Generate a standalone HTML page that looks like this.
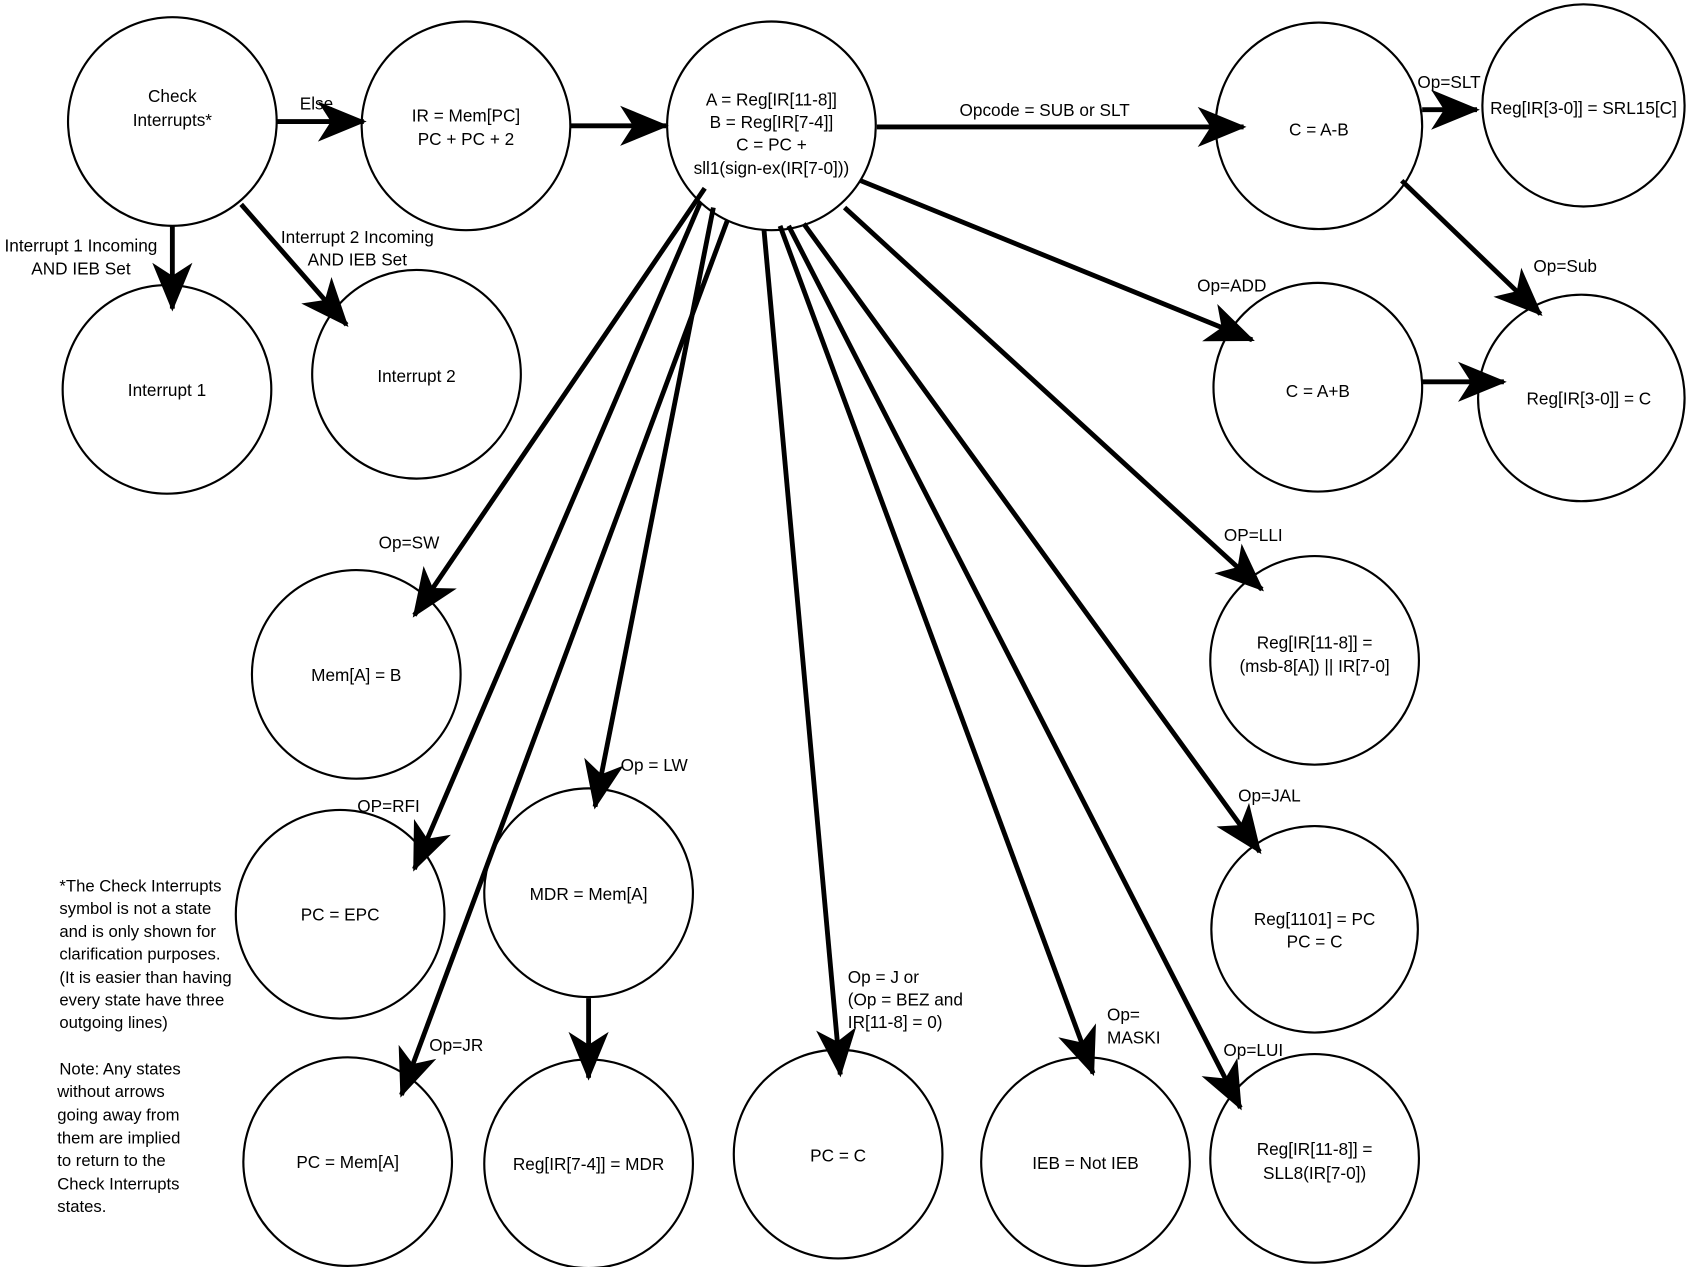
<!DOCTYPE html>
<html><head><meta charset="utf-8"><style>
html,body{margin:0;padding:0;background:#fff;width:1687px;height:1267px;overflow:hidden}
svg{display:block}
text{font-family:"Liberation Sans Narrow","Liberation Sans",sans-serif;font-size:16px;fill:#000;text-anchor:middle}
.n{font-family:"Liberation Sans",sans-serif;font-size:15.5px;text-anchor:start}
circle{fill:none;stroke:#000;stroke-width:2}
line{stroke:#000;stroke-width:4.5;marker-end:url(#a)}
</style></head><body>
<svg width="1687" height="1267" viewBox="0 0 1568 1178" xmlns="http://www.w3.org/2000/svg">
<defs><marker id="a" markerUnits="userSpaceOnUse" markerWidth="60" markerHeight="60" refX="0" refY="0" viewBox="-40 -20 45 40" orient="auto" overflow="visible"><path d="M2,0 L-32,-14 L-23,0 L-32,14 Z" fill="#000"/></marker></defs>

<circle cx="160" cy="113" r="97"/>
<circle cx="433" cy="117" r="97"/>
<circle cx="717" cy="117" r="97"/>
<circle cx="1226" cy="117" r="96"/>
<circle cx="1472" cy="98" r="94"/>
<circle cx="155" cy="362" r="97"/>
<circle cx="387" cy="348" r="97"/>
<circle cx="1225" cy="360" r="97"/>
<circle cx="1470" cy="370" r="96"/>
<circle cx="331" cy="627" r="97"/>
<circle cx="1222" cy="614" r="97"/>
<circle cx="316" cy="850" r="97"/>
<circle cx="547" cy="830" r="97"/>
<circle cx="1222" cy="864" r="96"/>
<circle cx="323" cy="1080" r="97"/>
<circle cx="547" cy="1082" r="97"/>
<circle cx="779" cy="1073" r="97"/>
<circle cx="1009" cy="1080" r="97"/>
<circle cx="1222" cy="1077" r="97"/>

<line x1="257" y1="113" x2="338" y2="113"/>
<line x1="530" y1="117" x2="619" y2="117"/>
<line x1="815" y1="118" x2="1156" y2="118"/>
<line x1="1322" y1="102" x2="1373" y2="102"/>
<line x1="1303" y1="168" x2="1432" y2="292"/>
<line x1="1322" y1="355" x2="1398" y2="355"/>
<line x1="160" y1="210" x2="160" y2="287"/>
<line x1="224" y1="190" x2="322" y2="302"/>
<line x1="800" y1="168" x2="1164" y2="316"/>
<line x1="655" y1="175" x2="385" y2="572"/>
<line x1="651" y1="188" x2="385" y2="808"/>
<line x1="676" y1="205" x2="373" y2="1018"/>
<line x1="663" y1="193" x2="553" y2="750"/>
<line x1="710" y1="213" x2="781" y2="999"/>
<line x1="725" y1="210" x2="1016" y2="998"/>
<line x1="785" y1="193" x2="1173" y2="548"/>
<line x1="747" y1="208" x2="1171" y2="792"/>
<line x1="733" y1="210" x2="1153" y2="1030"/>
<line x1="547" y1="928" x2="547" y2="1002"/>

<text x="160" y="95">Check</text>
<text x="160" y="117">Interrupts*</text>
<text x="433" y="113">IR = Mem[PC]</text>
<text x="433" y="135">PC + PC + 2</text>
<text x="717" y="98">A = Reg[IR[11-8]]</text>
<text x="717" y="119">B = Reg[IR[7-4]]</text>
<text x="717" y="140">C = PC +</text>
<text x="717" y="162">sll1(sign-ex(IR[7-0]))</text>
<text x="1226" y="126">C = A-B</text>
<text x="1472" y="106">Reg[IR[3-0]] = SRL15[C]</text>
<text x="155" y="368">Interrupt 1</text>
<text x="387" y="355">Interrupt 2</text>
<text x="1225" y="369">C = A+B</text>
<text x="1477" y="376">Reg[IR[3-0]] = C</text>
<text x="331" y="633">Mem[A] = B</text>
<text x="1222" y="603">Reg[IR[11-8]] =</text>
<text x="1222" y="625">(msb-8[A]) || IR[7-0]</text>
<text x="316" y="856">PC = EPC</text>
<text x="547" y="837">MDR = Mem[A]</text>
<text x="1222" y="860">Reg[1101] = PC</text>
<text x="1222" y="881">PC = C</text>
<text x="323" y="1086">PC = Mem[A]</text>
<text x="547" y="1088">Reg[IR[7-4]] = MDR</text>
<text x="779" y="1080">PC = C</text>
<text x="1009" y="1087">IEB = Not IEB</text>
<text x="1222" y="1074">Reg[IR[11-8]] =</text>
<text x="1222" y="1096">SLL8(IR[7-0])</text>

<text x="294" y="102">Else</text>
<text x="75" y="234">Interrupt 1 Incoming</text>
<text x="75" y="255">AND IEB Set</text>
<text x="332" y="226">Interrupt 2 Incoming</text>
<text x="332" y="247">AND IEB Set</text>
<text x="971" y="108">Opcode = SUB or SLT</text>
<text x="1347" y="82">Op=SLT</text>
<text x="1455" y="253">Op=Sub</text>
<text x="1145" y="271">Op=ADD</text>
<text x="380" y="510">Op=SW</text>
<text x="1165" y="503">OP=LLI</text>
<text x="361" y="755">OP=RFI</text>
<text x="608" y="717">Op = LW</text>
<text x="1180" y="745">Op=JAL</text>
<text x="424" y="977">Op=JR</text>
<text x="788" y="914" style="text-anchor:start">Op = J or</text>
<text x="788" y="935" style="text-anchor:start">(Op = BEZ and</text>
<text x="788" y="956" style="text-anchor:start">IR[11-8] = 0)</text>
<text x="1029" y="949" style="text-anchor:start">Op=</text>
<text x="1029" y="970" style="text-anchor:start">MASKI</text>
<text x="1165" y="982">Op=LUI</text>

<text class="n" x="55" y="829">*The Check Interrupts</text>
<text class="n" x="55" y="850">symbol is not a state</text>
<text class="n" x="55" y="871">and is only shown for</text>
<text class="n" x="55" y="892">clarification purposes.</text>
<text class="n" x="55" y="914">(It is easier than having</text>
<text class="n" x="55" y="935">every state have three</text>
<text class="n" x="55" y="956">outgoing lines)</text>
<text class="n" x="55" y="999"> Note: Any states</text>
<text class="n" x="53" y="1020">without arrows</text>
<text class="n" x="53" y="1042">going away from</text>
<text class="n" x="53" y="1063">them are implied</text>
<text class="n" x="53" y="1084">to return to the</text>
<text class="n" x="53" y="1106">Check Interrupts</text>
<text class="n" x="53" y="1127">states.</text>
</svg>
</body></html>
